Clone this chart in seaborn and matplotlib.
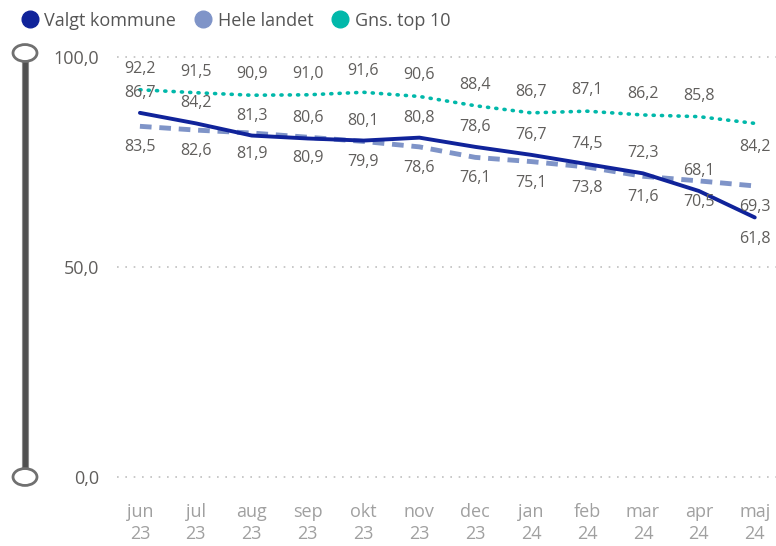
import numpy as np
import pandas as pd
import seaborn as sns
import matplotlib.pyplot as plt
from matplotlib.patches import Circle, Rectangle
from matplotlib.lines import Line2D

months = ["jun\n23", "jul\n23", "aug\n23", "sep\n23", "okt\n23", "nov\n23",
          "dec\n23", "jan\n24", "feb\n24", "mar\n24", "apr\n24", "maj\n24"]
valgt = [86.7, 84.2, 81.3, 80.6, 80.1, 80.8, 78.6, 76.7, 74.5, 72.3, 68.1, 61.8]
hele = [83.5, 82.6, 81.9, 80.9, 79.9, 78.6, 76.1, 75.1, 73.8, 71.6, 70.5, 69.3]
top10 = [92.2, 91.5, 90.9, 91.0, 91.6, 90.6, 88.4, 86.7, 87.1, 86.2, 85.8, 84.2]
y_ticks = [0, 50, 100]

series_names = ["Valgt kommune", "Hele landet", "Gns. top 10"]
colors = ["#10239A", "#7F94C8", "#01B8AA"]

sns.set_theme(style="white")
plt.rcParams['font.family'] = ['Open Sans', 'DejaVu Sans']

x = np.arange(len(months))
df = pd.DataFrame({"x": np.tile(x, 3),
                   "value": valgt + hele + top10,
                   "serie": np.repeat(series_names, len(months))})

fig = plt.figure(figsize=(7.76, 5.46), dpi=100)
W, H = 776, 546
ax = fig.add_axes([117 / W, (H - 477) / H, (W - 117) / W, 420 / H])

# draw top10 first, valgt on top
sns.lineplot(data=df[df.serie == "Gns. top 10"], x="x", y="value", ax=ax,
             color=colors[2], lw=2.6, linestyle=(0, (0.3, 2.0)),
             dash_capstyle="round", legend=False)
sns.lineplot(data=df[df.serie == "Hele landet"], x="x", y="value", ax=ax,
             color=colors[1], lw=3.5, linestyle=(0, (2.4, 1.6)), legend=False)
sns.lineplot(data=df[df.serie == "Valgt kommune"], x="x", y="value", ax=ax,
             color=colors[0], lw=2.8, legend=False)

ax.set_ylim(0, 100)
ax.set_xlim(-0.41, 11.38)
for yt in y_ticks:
    ax.axhline(yt, color="#c0c0c0", lw=1.2, linestyle=(0, (1, 4)), zorder=0,
               clip_on=False)

# data labels
lab_kw = dict(ha="center", va="center", fontsize=11.5, color="#605E5C", clip_on=False)
last = len(months) - 1
for i in x:
    off_v = 20 if i < last else -22
    off_t = 21 if i < last else -24
    ax.annotate(f"{top10[i]:.1f}".replace(".", ","), (i, top10[i]),
                xytext=(0, off_t), textcoords="offset pixels", **lab_kw)
    ax.annotate(f"{valgt[i]:.1f}".replace(".", ","), (i, valgt[i]),
                xytext=(0, off_v), textcoords="offset pixels", **lab_kw)
    ax.annotate(f"{hele[i]:.1f}".replace(".", ","), (i, hele[i]),
                xytext=(0, -21), textcoords="offset pixels", **lab_kw)

ax.set_xticks(x)
ax.set_xticklabels(months, fontsize=13, color="#a0a0a0", linespacing=1.25)
ax.set_yticks(y_ticks)
ax.set_yticklabels([f"{v:.1f}".replace(".", ",") for v in y_ticks],
                   fontsize=13, color="#605E5C")
ax.tick_params(axis="x", length=0, pad=19)
ax.tick_params(axis="y", length=0, pad=13)
ax.set_xlabel("")
ax.set_ylabel("")
for s in ax.spines.values():
    s.set_visible(False)

# slider on the left
fig.patches.append(Rectangle((21.5 / W, (H - 477) / H), 7 / W, 424 / H,
                             transform=fig.transFigure, facecolor="#505050",
                             edgecolor="#8a8a8a", lw=0.8, zorder=1))
for cy in (53, 477):
    fig.patches.append(Circle((25 / W, (H - cy) / H), 12 / W,
                              transform=fig.transFigure, facecolor="white",
                              edgecolor="#707070", lw=2, zorder=2))

# legend
handles = [Line2D([], [], marker="o", linestyle="", markersize=12,
                  markerfacecolor=c, markeredgecolor=c) for c in colors]
fig.legend(handles, series_names, loc="upper left", bbox_to_anchor=(0.0, 1.0),
           ncol=3, frameon=False, fontsize=13, handletextpad=-0.2,
           columnspacing=0.5, labelcolor="#555555", borderaxespad=0.25)

fig.savefig("out.png", dpi=100)
